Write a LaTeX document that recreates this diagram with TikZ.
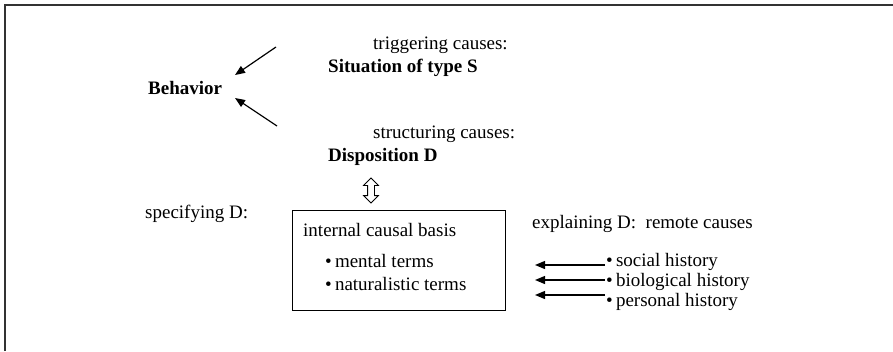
\documentclass[tikz,border=0pt]{standalone}
\usepackage{fontspec}
\setmainfont{Liberation Serif}
\usetikzlibrary{arrows.meta,shapes.arrows}
\begin{document}
\begin{tikzpicture}[x=1pt,y=-1pt,
  lbl/.style={anchor=base west,inner sep=0pt,font=\fontsize{19}{23}\selectfont},
  blbl/.style={lbl,font=\fontsize{19}{23}\selectfont\bfseries},
  arr/.style={-{Triangle[length=10pt,width=8pt]},line width=1.2pt},
  frame/.style={line width=1.5pt,draw=black!80}]
\useasboundingbox (0,0) rectangle (893,351);
\draw[frame] (5,351) -- (5,5) -- (893,5);
\node[lbl] (trig) at (373,49) {triggering causes:};
\node[blbl] (sit) at (328,72) {Situation of type S};
\node[blbl] (beh) at (148,94) {Behavior};
\coordinate (a1s) at (276,47);
\coordinate (a1e) at (235,75);
\coordinate (a2s) at (277,126);
\coordinate (a2e) at (235,98);
\draw[arr] (a1s) -- (a1e);
\draw[arr] (a2s) -- (a2e);
\node[lbl] (struct) at (373,138) {structuring causes:};
\node[blbl] (disp) at (328,161) {Disposition D};
\node[draw,line width=0.8pt,double arrow,rotate=90,minimum height=25pt,
  inner sep=3pt,double arrow head extend=4pt] (dbl) at (371,190.5) {};
\node[lbl] (spec) at (145,218) {specifying D:};
\node[draw,line width=1pt,minimum width=213pt,minimum height=100pt,inner sep=0pt] (box) at (398.5,260) {};
\node[lbl] (icb) at (303,236) {internal causal basis};
\node[lbl] (ment) at (325,267) {\textbullet\,mental terms};
\node[lbl] (nat) at (325,290) {\textbullet\,naturalistic terms};
\node[lbl] (expl) at (532,228) {explaining D:\ \ remote causes};
\node[lbl] (soc) at (606,266) {\textbullet\,social history};
\node[lbl] (bio) at (606,286) {\textbullet\,biological history};
\node[lbl] (pers) at (606,306) {\textbullet\,personal history};
\coordinate (r1) at (535,265);
\coordinate (r2) at (535,280);
\coordinate (r3) at (535,295);
\draw[arr] (soc.west |- r1) ++(-1,0) -- (r1);
\draw[arr] (bio.west |- r2) ++(-1,0) -- (r2);
\draw[arr] (pers.west |- r3) ++(-1,0) -- (r3);
\end{tikzpicture}
\end{document}
